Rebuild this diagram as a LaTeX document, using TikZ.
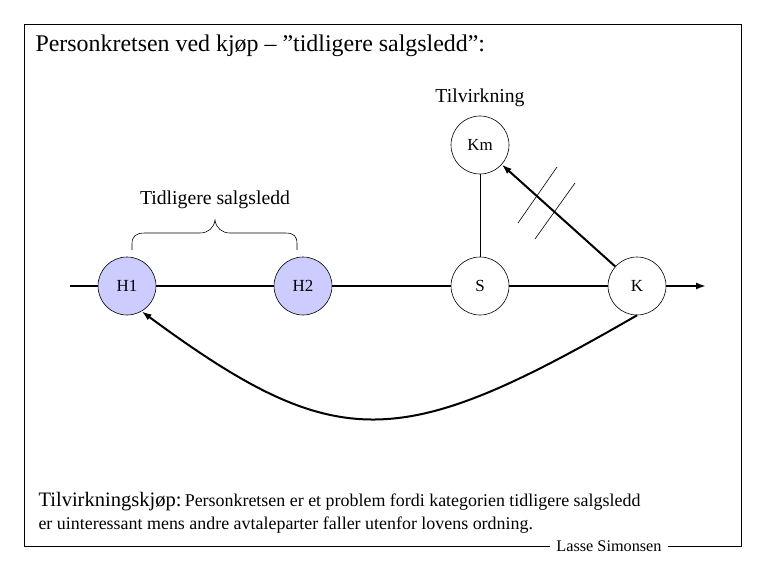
\documentclass[tikz,border=0pt]{standalone}
\usepackage{fontspec}
\setmainfont{Liberation Serif}
\usetikzlibrary{arrows.meta}
\newcommand{\fs}[1]{\fontsize{#1}{#1}\selectfont}
\tikzset{
  circ/.style={circle, draw, line width=0.6bp, minimum size=58bp, inner sep=0pt, font=\fs{17}},
  hcirc/.style={circ, fill=lav},
  mainline/.style={line width=1.8bp},
  arr/.style={line width=2bp, -{Latex[length=10bp,width=7bp]}},
  thin line/.style={line width=0.6bp},
}
\definecolor{lav}{RGB}{204,204,255}
\begin{document}
\begin{tikzpicture}[x=1bp,y=-1bp]
\useasboundingbox (0,0) rectangle (765,570);
% frame
\draw[line width=0.9bp] (550,546) -- (24,546) -- (24,24) -- (741,24) -- (741,546) -- (668,546);
\node[font=\fs{16.3}] (sig) at (609,546) {Lasse Simonsen};
% title
\node[anchor=base west, font=\fs{24}] (title) at (32,52) {Personkretsen ved kjøp – ”tidligere salgsledd”:};
\node[font=\fs{19.8}] (tilv) at (480,98) {Tilvirkning};
\node[font=\fs{19.8}] (tidl) at (215,200) {Tidligere salgsledd};
% brace
\draw[thin line] (132,250) -- (132,244) .. controls (132,236) and (136,233) .. (145,233) -- (200,233) .. controls (208,233) and (214,228) .. (215,220) .. controls (216,228) and (222,233) .. (230,233) -- (285,233) .. controls (294,233) and (297,236) .. (297,244) -- (297,250);
% nodes
\node[hcirc] (H1) at (127,286) {H1};
\node[hcirc] (H2) at (303,286) {H2};
\node[circ] (S) at (480,286) {S};
\node[circ] (K) at (637,286) {K};
\node[circ] (Km) at (480,145) {Km};
\coordinate (start) at (70,286);
\coordinate (end) at (706,286);
% main line
\draw[mainline] (start) -- (H1);
\draw[mainline] (H1) -- (H2);
\draw[mainline] (H2) -- (S);
\draw[mainline] (S) -- (K);
\draw[line width=1.8bp, -{Latex[length=10bp,width=7bp]}] (K) -- (end);
% vertical
\draw[thin line] (Km) -- (S);
% K -> Km
\draw[arr] (K) -- (Km);
% ticks
\draw[thin line] (518,223) -- (557,167);
\draw[thin line] (535,239) -- (575,183);
% curve K -> H1
\draw[arr] (K.south) .. controls (400,452) and (338,456) .. (H1.-60);
% bottom text
\node[anchor=base west] (t1) at (35,506) {{\fs{20.6}Tilvirkningskjøp:} {\fs{18}Personkretsen er et problem fordi kategorien tidligere salgsledd}};
\node[anchor=base west, font=\fs{18}] (t2) at (35,529) {er uinteressant mens andre avtaleparter faller utenfor lovens ordning.};
\end{tikzpicture}
\end{document}
